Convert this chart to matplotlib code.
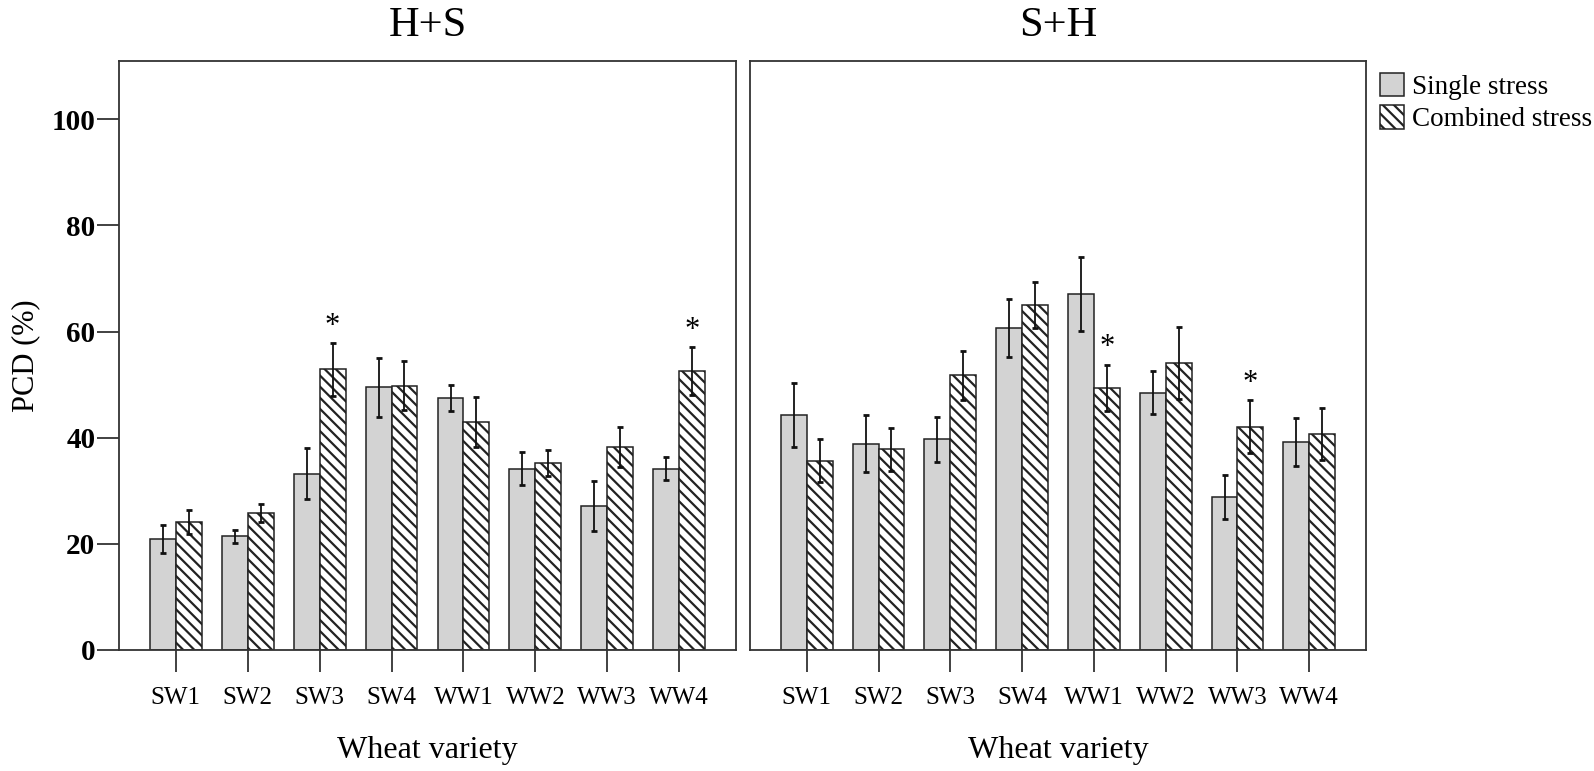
import matplotlib.pyplot as plt
import numpy as np
from matplotlib.patches import Patch

plt.rcParams["font.family"] = ["Liberation Serif", "DejaVu Serif"]
plt.rcParams["hatch.linewidth"] = 1.6

varieties = ["SW1", "SW2", "SW3", "SW4", "WW1", "WW2", "WW3", "WW4"]

# H+S panel
hs_single = [20.9, 21.4, 33.2, 49.5, 47.5, 34.2, 27.1, 34.2]
hs_single_err = [2.6, 1.3, 4.8, 5.5, 2.4, 3.1, 4.7, 2.2]
hs_combined = [24.1, 25.8, 52.9, 49.8, 42.9, 35.2, 38.2, 52.6]
hs_combined_err = [2.3, 1.7, 5.0, 4.6, 4.7, 2.5, 3.8, 4.5]
hs_signif = [False, False, True, False, False, False, False, True]

# S+H panel
sh_single = [44.3, 38.9, 39.7, 60.7, 67.1, 48.5, 28.8, 39.2]
sh_single_err = [6.1, 5.4, 4.2, 5.5, 7.0, 4.0, 4.1, 4.5]
sh_combined = [35.7, 37.8, 51.8, 65.0, 49.4, 54.1, 42.1, 40.7]
sh_combined_err = [4.0, 4.0, 4.6, 4.4, 4.4, 6.8, 5.0, 4.9]
sh_signif = [False, False, False, False, True, False, True, False]

W, H = 1594, 771
fig = plt.figure(figsize=(W / 100, H / 100), dpi=100)
ax1 = fig.add_axes([119 / W, 1 - 650 / H, 617 / W, 589 / H])
ax2 = fig.add_axes([750 / W, 1 - 650 / H, 616 / W, 589 / H])

x = np.arange(len(varieties))
bw = 0.36
edge = "#222222"
gray = "#d3d3d3"


def draw_panel(ax, single, single_err, comb, comb_err, signif, title):
    ax.bar(x - bw / 2, single, bw, color=gray, edgecolor=edge, linewidth=1.1)
    ax.bar(x + bw / 2, comb, bw, color="white", edgecolor=edge, linewidth=1.1,
           hatch="\\\\\\")
    ekw = dict(fmt="none", ecolor="#111111", elinewidth=1.3, capsize=2.2,
               capthick=2)
    ax.errorbar(x - bw / 2, single, yerr=single_err, **ekw)
    ax.errorbar(x + bw / 2, comb, yerr=comb_err, **ekw)
    for i, s in enumerate(signif):
        if s:
            ax.text(x[i] + bw / 2, comb[i] + comb_err[i] + 0.4, "*",
                    ha="center", va="bottom", fontsize=22)
    ax.set_xlim(-0.79, 7.79)
    ax.set_ylim(0, 111)
    ax.set_xticks(x)
    ax.set_xticklabels(varieties, fontsize=18)
    ax.tick_params(axis="x", length=16, width=1.3, color="#333333", pad=11)
    ax.set_xlabel("Wheat variety", fontsize=23, labelpad=19)
    ax.set_title(title, fontsize=30.5, pad=18)
    for sp in ax.spines.values():
        sp.set_linewidth(1.3)
        sp.set_color("#333333")


draw_panel(ax1, hs_single, hs_single_err, hs_combined, hs_combined_err,
           hs_signif, "H+S")
draw_panel(ax2, sh_single, sh_single_err, sh_combined, sh_combined_err,
           sh_signif, "S+H")

ax1.set_yticks([0, 20, 40, 60, 80, 100])
ax1.tick_params(axis="y", length=16, width=1.3, color="#333333", pad=1,
                labelsize=21)
for lab in ax1.get_yticklabels():
    lab.set_fontweight("bold")
ax1.set_ylabel("PCD (%)", fontsize=22, labelpad=8)
ax2.tick_params(axis="y", left=False, labelleft=False)

handles = [
    Patch(facecolor=gray, edgecolor=edge, linewidth=1.1),
    Patch(facecolor="white", edgecolor=edge, linewidth=1.1, hatch="\\\\\\"),
]
fig.legend(handles, ["Single stress", "Combined stress"], loc="upper left",
           bbox_to_anchor=(1380 / W, 1 - 73 / H), frameon=False, fontsize=19.5,
           handlelength=0.9, handleheight=0.95, handletextpad=0.3,
           labelspacing=0.2, borderpad=0, borderaxespad=0)

fig.savefig("out.png", dpi=100)
